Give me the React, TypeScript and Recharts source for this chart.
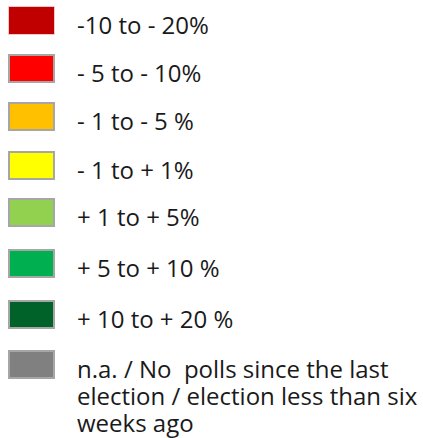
import { Bar, BarChart, Legend } from "recharts";

// legend ranges, top to bottom
const labels = [
  "-10 to - 20%",
  "- 5 to - 10%",
  "- 1 to - 5 %",
  "- 1 to + 1%",
  "+ 1 to + 5%",
  "+ 5 to + 10 %",
  "+ 10 to + 20 %",
  "n.a. / No  polls since the last election / election less than six weeks ago",
];
const colors = [
  "#C00000",
  "#FF0000",
  "#FFC000",
  "#FFFF00",
  "#92D050",
  "#00B050",
  "#006129",
  "#808080",
];
const keys = ["r1", "r2", "r3", "r4", "r5", "r6", "r7", "na"];
const counts = [0, 0, 0, 0, 0, 0, 0, 0];

const data = [
  keys.reduce<Record<string, number | string>>(
    (row, k, i) => {
      row[k] = counts[i];
      return row;
    },
    { name: "legend" }
  ),
];

// swatch top edge of each row (px)
const ROW_TOPS = [6, 54, 102, 151, 198, 249, 300, 350];

function LegendContent(props: any) {
  // keep the series order, not the alphabetical one
  const items = [...(props.payload ?? [])].sort(
    (a: any, b: any) => labels.indexOf(a.value) - labels.indexOf(b.value)
  );
  return (
    <div style={{ position: "relative", width: 423, height: 438 }}>
      {items.map((entry: any, i: number) => {
        const top = ROW_TOPS[i] ?? 6 + i * 49;
        return (
          <div key={entry.value}>
            <div
              style={{
                position: "absolute",
                left: 8,
                top,
                width: 47,
                height: 29,
                boxSizing: "border-box",
                background: entry.color,
                border: i === 0 ? "1px solid #f4c8c8" : "2px solid #a6a6a6",
              }}
            />
            <div
              style={{
                position: "absolute",
                left: 77,
                top: top + 5,
                width: 346,
                fontFamily: "'Open Sans', sans-serif",
                fontSize: 24,
                lineHeight: "27px",
                color: "#1a1a1a",
                whiteSpace: "pre-wrap",
                textAlign: "left",
              }}
            >
              {entry.value}
            </div>
          </div>
        );
      })}
    </div>
  );
}

export default function App() {
  return (
    <div style={{ position: "absolute", left: 0, top: 0, background: "#fff" }}>
      <BarChart width={423} height={438} data={data} margin={{ top: 0, right: 0, bottom: 0, left: 0 }}>
        <Legend
          layout="vertical"
          verticalAlign="top"
          align="left"
          content={<LegendContent />}
          wrapperStyle={{ left: 0, top: 0, width: 423, height: 438 }}
        />
        {keys.map((k, i) => (
          <Bar key={k} dataKey={k} name={labels[i]} fill={colors[i]} isAnimationActive={false} />
        ))}
      </BarChart>
    </div>
  );
}
